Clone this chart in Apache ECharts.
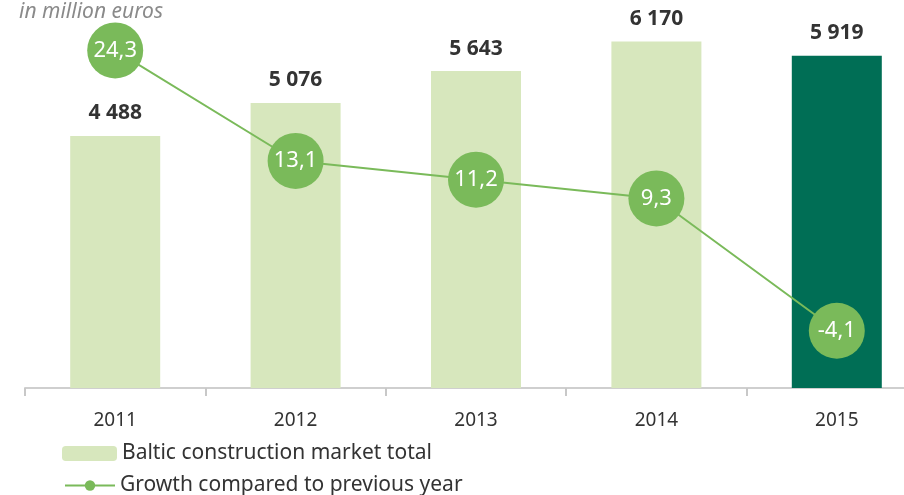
<!DOCTYPE html>
<html>
<head>
<meta charset="utf-8">
<script src="https://cdn.jsdelivr.net/npm/echarts@6/dist/echarts.min.js"></script>
<style>
  html, body { margin: 0; padding: 0; background: #fff; }
  #chart { width: 904px; height: 495px; }
</style>
</head>
<body>
<div id="chart"></div>
<script>
// 年份
const years = ['2011', '2012', '2013', '2014', '2015']
// 市场总额（百万欧元）
const marketTotal = [4488, 5076, 5643, 6170, 5919]
// 同比增长 %
const growth = [24.3, 13.1, 11.2, 9.3, -4.1]

const FONT = 'Noto Sans'
const lightGreen = '#d7e7bd'
const darkGreen = '#006e55'
const dotGreen = '#7aba5a'
const BAR_NAME = 'Baltic construction market total'
const LINE_NAME = 'Growth compared to previous year'

const chart = echarts.init(document.getElementById('chart'))

const legendText = { fontFamily: FONT, fontSize: 21, color: '#333' }

chart.setOption({
  animation: false,
  textStyle: { fontFamily: FONT },
  title: {
    text: 'in million euros',
    left: 14,
    top: -3,
    textStyle: {
      fontFamily: FONT,
      fontStyle: 'italic',
      fontWeight: 'normal',
      fontSize: 21,
      color: '#8a8a8a',
    },
  },
  // 两行图例，分开放
  legend: [
    {
      left: 62,
      top: 443,
      padding: 0,
      itemWidth: 55,
      itemHeight: 15,
      textStyle: legendText,
      data: [BAR_NAME],
    },
    {
      left: 64,
      top: 475,
      padding: 0,
      itemWidth: 50,
      itemHeight: 13,
      textStyle: legendText,
      data: [LINE_NAME],
    },
  ],
  // 图表位置
  grid: {
    left: 25,
    width: 902,
    top: 23,
    bottom: 107,
    containLabel: false,
    outerBoundsMode: 'none',
  },
  xAxis: {
    type: 'category',
    data: years,
    axisLine: { lineStyle: { color: '#cfcfcf', width: 2 } },
    axisTick: { show: true, length: 8, lineStyle: { color: '#c8c8c8', width: 2 } },
    axisLabel: { margin: 23, fontSize: 19, color: '#333', fontFamily: FONT },
  },
  yAxis: [
    { type: 'value', min: 0, max: 6500, show: false, splitLine: { show: false } },
    { type: 'value', min: -9.9, max: 27.08, show: false, splitLine: { show: false } },
  ],
  series: [
    {
      name: BAR_NAME,
      type: 'bar',
      barWidth: 90,
      data: marketTotal.map((v, i) => (i === marketTotal.length - 1
        ? { value: v, itemStyle: { color: darkGreen } }
        : v)),
      itemStyle: { color: lightGreen },
      label: {
        show: true,
        position: 'top',
        distance: 12,
        fontSize: 21,
        fontWeight: 'bold',
        color: '#333',
        fontFamily: FONT,
        formatter: p => String(p.value).replace(/\B(?=(\d{3})+(?!\d))/g, ' '),
      },
      z: 1,
    },
    {
      name: LINE_NAME,
      type: 'line',
      yAxisIndex: 1,
      data: growth,
      symbol: 'circle',
      symbolSize: 56,
      lineStyle: { color: dotGreen, width: 2 },
      itemStyle: { color: dotGreen },
      label: {
        show: true,
        position: 'inside',
        color: '#fff',
        fontSize: 22,
        fontFamily: FONT,
        formatter: p => String(p.value).replace('.', ','),
      },
      z: 3,
    },
  ],
})
</script>
</body>
</html>
